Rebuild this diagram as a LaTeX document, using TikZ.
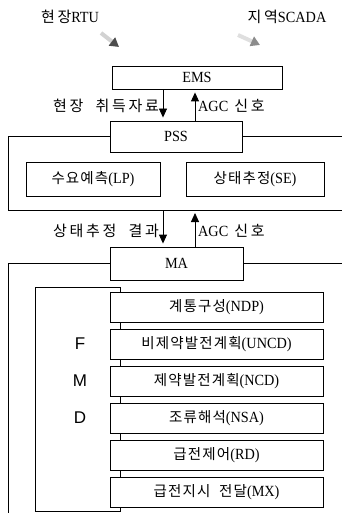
\documentclass[tikz,border=0pt]{standalone}
\usepackage{fontspec}
\setmainfont[FakeStretch=0.92]{Liberation Serif}
\newfontfamily\krfont[LetterSpace=8]{Noto Sans CJK KR}
\newfontfamily\krlabel[LetterSpace=18]{Noto Sans CJK KR}
\newfontfamily\fmdfont{Liberation Sans}
\usetikzlibrary{arrows.meta}
\newcommand\KR[1]{{\krfont\fontsize{14.5}{16}\selectfont #1}}
\newcommand\KL[1]{{\krlabel\fontsize{15}{17}\selectfont #1}}
\begin{document}
\begin{tikzpicture}[x=1pt,y=-1pt,
  txt/.style={font=\fontsize{15.5}{17}\selectfont, inner sep=0pt},
  box/.style={draw, line width=0.9pt, fill=white, inner sep=0pt, font=\fontsize{15.5}{17}\selectfont},
  frame/.style={line width=0.9pt},
  arr/.style={line width=0.9pt, -{Triangle[length=9pt,width=8pt]}, shorten >=3pt},
  fmd/.style={font=\fmdfont\fontsize{17}{19}\selectfont, inner sep=0pt}]
\useasboundingbox (0,0) rectangle (342,513);
\coordinate (rgt) at (342,0);
\coordinate (lft) at (8,0);
\coordinate (ax1) at (163,0);
\coordinate (ax2) at (195,0);

% top labels
\node[txt] (rtu) at (70,17) {\KL{현장}RTU};
\node[txt] (scada) at (287,17) {\KL{지역}SCADA};
\coordinate (g1s) at (101,33);
\coordinate (g1e) at (119,47);
\coordinate (g2s) at (238,35);
\coordinate (g2e) at (260,45);
\draw[line width=4pt, gray!35, -{Triangle[length=9pt,width=10pt,color=black!70]}] (g1s) -- (g1e);
\draw[line width=4pt, gray!25, -{Triangle[length=9pt,width=10pt,color=black!45]}] (g2s) -- (g2e);

% EMS
\node[box, minimum width=170, minimum height=23] (ems) at (197,77.5) {EMS};
% PSS
\node[box, minimum width=132, minimum height=31] (pss) at (176,136.5) {PSS};
\coordinate (pssbot) at (8,210);
\draw[frame] (pss.west) -| (pssbot) -- (pssbot -| rgt);
\draw[frame] (pss.east) -- (pss.east -| rgt);
\node[box, minimum width=134, minimum height=34] (lp) at (93,179) {\KR{수요예측}(LP)};
\node[box, minimum width=138, minimum height=34] (se) at (255,179) {\KR{상태추정}(SE)};

\draw[arr] (ems.south -| ax1) -- (pss.north -| ax1);
\draw[arr] (pss.north -| ax2) -- (ems.south -| ax2);
\node[txt, anchor=east] (l1) at (159,106) {\KL{현장 \ 취득자료}};
\node[txt, anchor=west] (l2) at (198,106) {AGC \KL{\,신호}};

% MA
\node[box, minimum width=133, minimum height=33] (ma) at (176.5,263.5) {MA};
\coordinate (mabot) at (8,513);
\draw[frame] (ma.west) -| (mabot);
\draw[frame] (ma.east) -- (ma.east -| rgt);

\draw[arr] (pssbot -| ax1) -- (ma.north -| ax1);
\draw[arr] (ma.north -| ax2) -- (pssbot -| ax2);
\node[txt, anchor=east] (l3) at (159,231) {\KL{상태추정 \ 결과}};
\node[txt, anchor=west] (l4) at (198,231) {AGC \KL{\,신호}};

% FMD frame
\node[draw, line width=0.9pt, minimum width=85, minimum height=224, inner sep=0pt] (fmdbox) at (77.5,399) {};
\node[fmd] (f) at (80,344) {F};
\node[fmd] (m) at (80,381) {M};
\node[fmd] (d) at (80,418) {D};

% list
\node[box, minimum width=213, minimum height=30] (ndp) at (216.5,307) {\KR{계통구성}(NDP)};
\node[box, minimum width=213, minimum height=30] (uncd) at (216.5,344) {\KR{비제약발전계획}(UNCD)};
\node[box, minimum width=213, minimum height=30] (ncd) at (216.5,381) {\KR{제약발전계획}(NCD)};
\node[box, minimum width=213, minimum height=30] (nsa) at (216.5,418) {\KR{조류해석}(NSA)};
\node[box, minimum width=213, minimum height=30] (rd) at (216.5,455) {\KR{급전제어}(RD)};
\node[box, minimum width=213, minimum height=30] (mx) at (216.5,492) {\KR{급전지시 \ 전달}(MX)};
\end{tikzpicture}
\end{document}
